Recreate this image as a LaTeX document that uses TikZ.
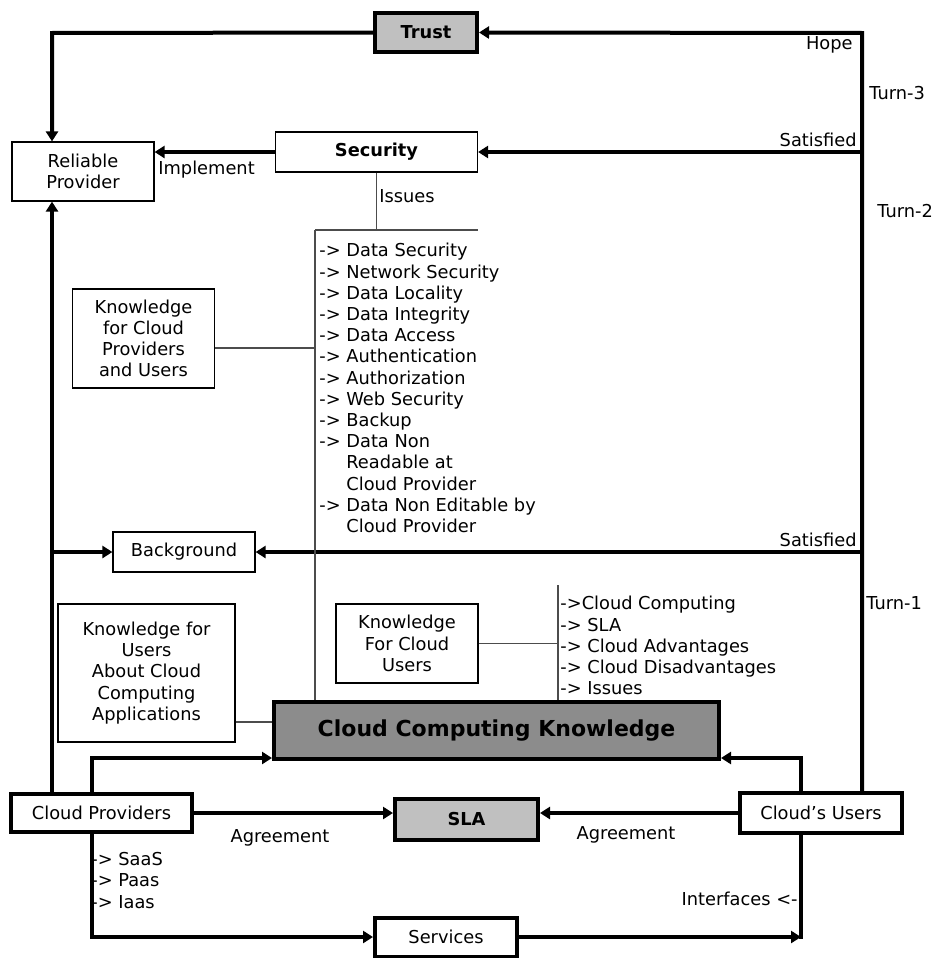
\documentclass[tikz,border=0pt]{standalone}
\usepackage{fontspec}
\setmainfont{DejaVu Sans}
\usepackage{xcolor}
\usepackage{tikz}
\usetikzlibrary{arrows.meta}
\definecolor{lightfill}{HTML}{C0C0C0}
\definecolor{darkfill}{HTML}{8C8C8C}
\newcommand\diafont{\fontsize{8.9}{10.6}\selectfont}

\begin{document}
\begin{tikzpicture}[
  x=0.5pt,y=-0.5pt,
  box/.style={draw,line width=0.6pt,align=center,inner sep=0pt,font=\diafont},
  heavy/.style={box,line width=2pt},
  lbl/.style={inner sep=0pt,font=\diafont,align=left},
  arr/.style={-{Triangle[length=5pt,width=6pt]},line width=2pt},
  bus/.style={line width=2pt},
  link/.style={line width=0.7pt,black!70},
]
\useasboundingbox (0,0) rectangle (933,958);

% boxes
\node[heavy,fill=lightfill,minimum width=51pt,minimum height=19.5pt,font=\diafont\bfseries] (trust) at (426,32.5) {Trust};
\node[box,minimum width=101pt,minimum height=20pt,font=\diafont\bfseries] (security) at (376.5,152) {Security};
\node[box,minimum width=71pt,minimum height=29.5pt] (reliable) at (83,171.5) {Reliable\\Provider};
\node[box,minimum width=71pt,minimum height=49.5pt] (kprov) at (143.5,338.5) {Knowledge\\for Cloud\\Providers\\and Users};
\node[box,minimum width=71pt,minimum height=20pt] (background) at (184,552) {Background};
\node[box,minimum width=88.5pt,minimum height=69pt] (kapps) at (146.5,673) {Knowledge for\\Users\\About Cloud\\Computing\\Applications};
\node[box,minimum width=71pt,minimum height=39.5pt] (kusers) at (407,643.5) {Knowledge\\For Cloud\\Users};
\node[heavy,fill=darkfill,minimum width=222.5pt,minimum height=28.5pt,font=\fontsize{11}{13}\selectfont\bfseries] (cck) at (496.5,730.5) {Cloud Computing Knowledge};
\node[heavy,minimum width=90.5pt,minimum height=19pt] (providers) at (101.5,813) {Cloud Providers};
\node[heavy,minimum width=81pt,minimum height=20pt] (users) at (821,813) {Cloud’s Users};
\node[heavy,fill=lightfill,minimum width=71.5pt,minimum height=20.5pt,font=\diafont\bfseries] (sla) at (466.5,819.5) {SLA};
\node[heavy,minimum width=71pt,minimum height=19.5pt] (services) at (446,937) {Services};

% spines and joints
\coordinate (rspine) at (862,33);
\coordinate (lspine) at (52,33);
\coordinate (secbar) at (315,230);
\coordinate (cloudbar) at (558,585);
\coordinate (pvleg) at (92,758);
\coordinate (usleg) at (801,758);

% feedback turns
\draw[arr] (rspine |- users.north) -- (rspine) -- (trust.east);
\draw[arr] (trust.west) -- (lspine) -- (lspine |- reliable.north);
\draw[arr] (rspine |- security.east) -- (security.east);
\draw[arr] (security.west) -- (security.west -| reliable.east);
\draw[arr] (lspine |- providers.north) -- (lspine |- reliable.south);
\draw[arr] (lspine |- background.west) -- (background.west);
\draw[arr] (rspine |- background.east) -- (background.east);

% knowledge links
\draw[link] (security.south) -- (security.south |- secbar);
\draw[link] (secbar) -- ++(163,0);
\draw[link] (secbar) -- (secbar |- cck.north);
\draw[link] ([yshift=-4.75pt]kprov.east) -- ([yshift=-4.75pt]kprov.east -| secbar);
\draw[link] ([yshift=-24.5pt]kapps.east) -- ([yshift=-24.5pt]kapps.east -| cck.west);
\draw[link] (cloudbar) -- (cloudbar |- cck.north);
\draw[link] (kusers.east) -- (kusers.east -| cloudbar);

% providers, users, SLA, services
\draw[arr] (pvleg |- providers.north) -- (pvleg) -- (pvleg -| cck.west);
\draw[arr] (usleg |- users.north) -- (usleg) -- (usleg -| cck.east);
\draw[arr] (providers.east) -- (providers.east -| sla.west);
\draw[arr] (users.west) -- (users.west -| sla.east);
\draw[arr] (pvleg |- providers.south) -- (pvleg |- services.west) -- (services.west);
\draw[bus] (usleg |- users.south) -- ([yshift=-1pt]usleg |- services.east);
\draw[arr] (services.east) -- (usleg |- services.east);

% labels
\node[lbl,anchor=east] (hope) at (853,45) {Hope};
\node[lbl,anchor=west] (turn3) at (869,93) {Turn-3};
\node[lbl,anchor=east] (sat2) at (857,140) {Satisfied};
\node[lbl,anchor=west] (turn2) at (877,211) {Turn-2};
\node[lbl,anchor=east] (sat1) at (857,540) {Satisfied};
\node[lbl,anchor=west] (turn1) at (866,603) {Turn-1};
\node[lbl,anchor=west] (implement) at (158,170) {Implement};
\node[lbl,anchor=west] (issues) at (379,196) {Issues};
\node[lbl] (agreeL) at (280,838) {Agreement};
\node[lbl] (agreeR) at (626,835) {Agreement};
\node[lbl,anchor=east] (interfaces) at (798,899) {Interfaces <-};

% lists
\node[lbl,anchor=north west] (seclist) at (319,243) {-> Data Security\\-> Network Security\\-> Data Locality\\-> Data Integrity\\-> Data Access\\-> Authentication\\-> Authorization\\-> Web Security\\-> Backup\\-> Data Non\\\hphantom{->}\ Readable at\\\hphantom{->}\ Cloud Provider\\-> Data Non Editable by\\\hphantom{->}\ Cloud Provider};
\node[lbl,anchor=north west] (cloudlist) at (560,596) {->Cloud Computing\\-> SLA\\-> Cloud Advantages\\-> Cloud Disadvantages\\-> Issues};
\node[lbl,anchor=north west] (svclist) at (91,852) {-> SaaS\\-> Paas\\-> Iaas};
\end{tikzpicture}
\end{document}
